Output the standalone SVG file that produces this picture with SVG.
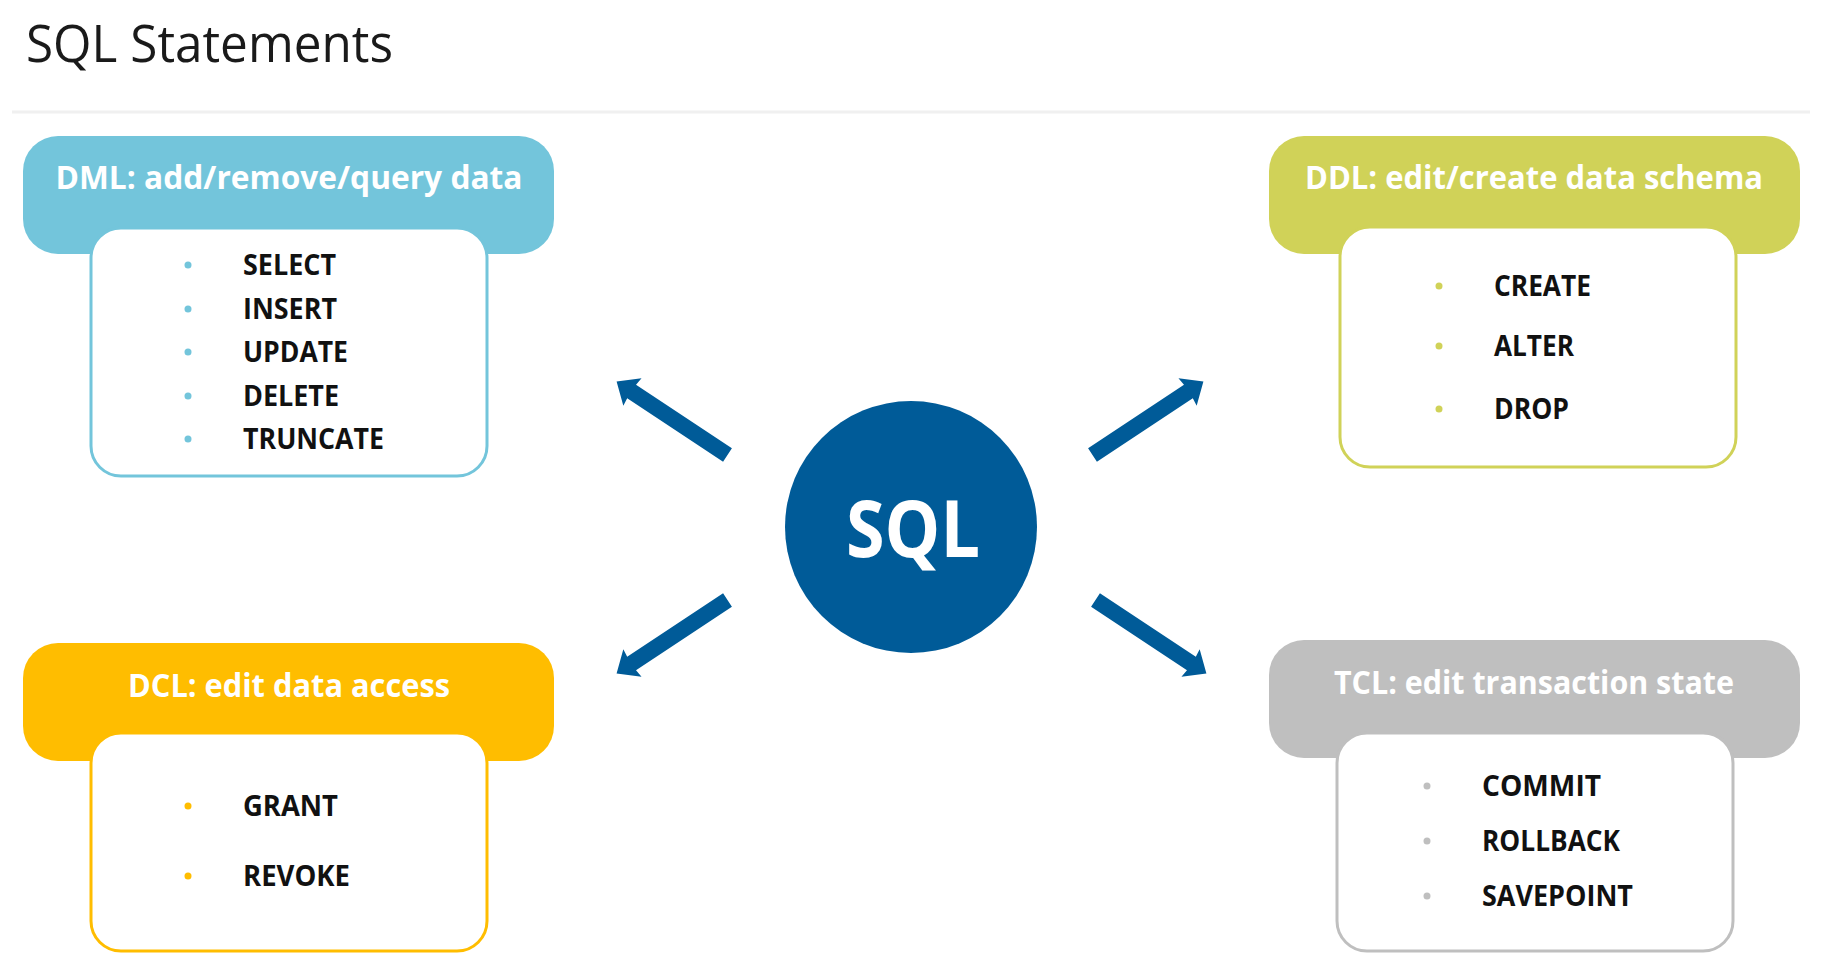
<svg xmlns="http://www.w3.org/2000/svg" width="1834" height="969" viewBox="0 0 1834 969">
<style>
.title{font-family:"Open Sans","Liberation Sans",sans-serif;font-size:51px;fill:#1a1a1a}
.head{font-family:"Open Sans","Liberation Sans",sans-serif;font-weight:bold;font-size:33px;fill:#ffffff;text-anchor:middle}
.item{font-family:"Open Sans","Liberation Sans",sans-serif;font-weight:bold;font-size:29px;fill:#111111}
.box{fill:#ffffff;stroke-width:3}
.arrow{fill:#005B98}
</style>
<defs>
<path id="arr" d="M0,-8 L115,-8 L114,-16.5 L133,0 L114,16.5 L115,8 L0,8 Z"/>
</defs>
<rect width="1834" height="969" fill="#ffffff"/>
<text class="title" x="26" y="62" textLength="367" lengthAdjust="spacingAndGlyphs">SQL Statements</text>
<rect x="12" y="110.5" width="1798" height="3" fill="#f0f0f0"/>

<g id="dml">
<rect x="23" y="136" width="531" height="118" rx="35" fill="#73C5DB"/>
<text class="head" x="289" y="189" textLength="467" lengthAdjust="spacingAndGlyphs">DML: add/remove/query data</text>
<rect class="box" x="91" y="228" width="396" height="248" rx="30" stroke="#73C5DB"/>
<g fill="#73C5DB"><circle cx="188" cy="265" r="3.5"/><circle cx="188" cy="309" r="3.5"/><circle cx="188" cy="352" r="3.5"/><circle cx="188" cy="396" r="3.5"/><circle cx="188" cy="439" r="3.5"/></g>
<text class="item" x="243" y="275" textLength="93" lengthAdjust="spacingAndGlyphs">SELECT</text>
<text class="item" x="243" y="319" textLength="94" lengthAdjust="spacingAndGlyphs">INSERT</text>
<text class="item" x="243" y="362" textLength="105" lengthAdjust="spacingAndGlyphs">UPDATE</text>
<text class="item" x="243" y="406" textLength="96" lengthAdjust="spacingAndGlyphs">DELETE</text>
<text class="item" x="243" y="449" textLength="141" lengthAdjust="spacingAndGlyphs">TRUNCATE</text>
</g>

<g id="ddl">
<rect x="1269" y="136" width="531" height="118" rx="35" fill="#D0D258"/>
<text class="head" x="1534" y="189" textLength="458" lengthAdjust="spacingAndGlyphs">DDL: edit/create data schema</text>
<rect class="box" x="1340" y="227" width="396" height="240" rx="30" stroke="#D0D258"/>
<g fill="#D0D258"><circle cx="1439" cy="286" r="3.5"/><circle cx="1439" cy="346" r="3.5"/><circle cx="1439" cy="409" r="3.5"/></g>
<text class="item" x="1494" y="296" textLength="97" lengthAdjust="spacingAndGlyphs">CREATE</text>
<text class="item" x="1494" y="356" textLength="80" lengthAdjust="spacingAndGlyphs">ALTER</text>
<text class="item" x="1494" y="419" textLength="75" lengthAdjust="spacingAndGlyphs">DROP</text>
</g>

<g id="dcl">
<rect x="23" y="643" width="531" height="118" rx="35" fill="#FFBD00"/>
<text class="head" x="289" y="697" textLength="322" lengthAdjust="spacingAndGlyphs">DCL: edit data access</text>
<rect class="box" x="91" y="733" width="396" height="218" rx="30" stroke="#FFBD00"/>
<g fill="#FFBD00"><circle cx="188" cy="806" r="3.5"/><circle cx="188" cy="876" r="3.5"/></g>
<text class="item" x="243" y="816" textLength="95" lengthAdjust="spacingAndGlyphs">GRANT</text>
<text class="item" x="243" y="886" textLength="107" lengthAdjust="spacingAndGlyphs">REVOKE</text>
</g>

<g id="tcl">
<rect x="1269" y="640" width="531" height="118" rx="35" fill="#BFBFBF"/>
<text class="head" x="1534" y="694" textLength="400" lengthAdjust="spacingAndGlyphs">TCL: edit transaction state</text>
<rect class="box" x="1337" y="733" width="396" height="218" rx="30" stroke="#BFBFBF"/>
<g fill="#BFBFBF"><circle cx="1427" cy="786" r="3.5"/><circle cx="1427" cy="841" r="3.5"/><circle cx="1427" cy="896" r="3.5"/></g>
<text class="item" x="1482" y="796" textLength="119" lengthAdjust="spacingAndGlyphs">COMMIT</text>
<text class="item" x="1482" y="851" textLength="138" lengthAdjust="spacingAndGlyphs">ROLLBACK</text>
<text class="item" x="1482" y="906" textLength="151" lengthAdjust="spacingAndGlyphs">SAVEPOINT</text>
</g>

<g id="sql">
<circle cx="911" cy="527" r="126" fill="#005B98"/>
<text x="913" y="557" font-family="Open Sans, Liberation Sans, sans-serif" font-weight="bold" font-size="78" fill="#ffffff" text-anchor="middle" textLength="134" lengthAdjust="spacingAndGlyphs">SQL</text>
</g>

<g id="connectors" class="arrow">
<use href="#arr" transform="translate(727.5,455) rotate(213.5)"/>
<use href="#arr" transform="translate(1092.5,455) rotate(-33.5)"/>
<use href="#arr" transform="translate(727.5,600) rotate(146.5)"/>
<use href="#arr" transform="translate(1095.5,600) rotate(33.5)"/>
</g>
</svg>
